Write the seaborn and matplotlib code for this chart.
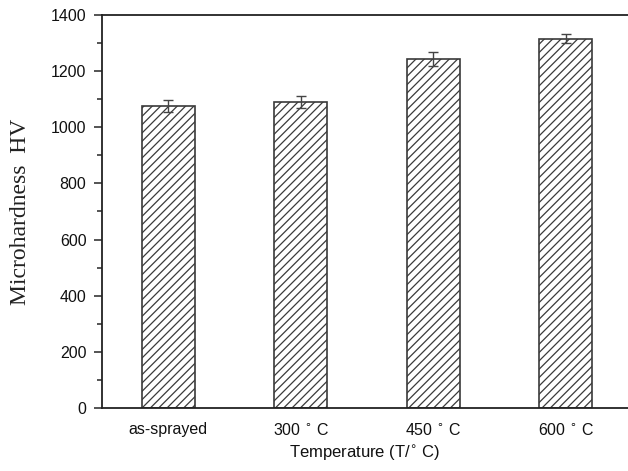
import matplotlib
matplotlib.use('Agg')
import matplotlib.pyplot as plt
import seaborn as sns
from matplotlib.ticker import MultipleLocator

# Data
categories = ['as-sprayed', '300 $^{\\circ}$ C', '450 $^{\\circ}$ C', '600 $^{\\circ}$ C']
hardness = [1076, 1090, 1242, 1316]
hardness_err = [20, 20, 25, 15]

sns.set_style('ticks')
plt.rcParams['font.family'] = ['Liberation Sans', 'DejaVu Sans']
plt.rcParams['hatch.color'] = '#555555'
plt.rcParams['hatch.linewidth'] = 0.9

fig = plt.figure(figsize=(6.28, 4.71), dpi=100)
ax = fig.add_axes([0.162, 0.134, 0.838, 0.834])

sns.barplot(x=categories, y=hardness, color='white', edgecolor='#3a3a3a',
            linewidth=1.2, width=0.4, ax=ax)
for bar in ax.patches:
    bar.set_hatch('////')

ax.errorbar(range(len(categories)), hardness, yerr=hardness_err, fmt='none',
            ecolor='#444444', elinewidth=1, capsize=3.5, capthick=1)

ax.set_xlim(-0.5, 3.47)
ax.set_ylim(0, 1400)
ax.yaxis.set_major_locator(MultipleLocator(200))
ax.yaxis.set_minor_locator(MultipleLocator(100))
ax.tick_params(axis='y', which='major', length=6, width=1.1, labelsize=11.5,
               direction='out', pad=5, labelcolor='#111111')
ax.tick_params(axis='y', which='minor', length=3.5, width=1.1, direction='out')
ax.tick_params(axis='x', length=0, labelsize=11.5, pad=10, labelcolor='#111111')

for side in ['left', 'bottom', 'top']:
    ax.spines[side].set_linewidth(1.3)
    ax.spines[side].set_color('#222222')
ax.spines['right'].set_visible(False)

ax.set_xlabel('Temperature (T/$^{\\circ}$ C)', fontsize=12, labelpad=4, color='#111111')
ax.set_ylabel('Microhardness  HV', fontsize=17, family='Liberation Serif',
              labelpad=14, color='#222222')

plt.savefig('out.png', dpi=100)
